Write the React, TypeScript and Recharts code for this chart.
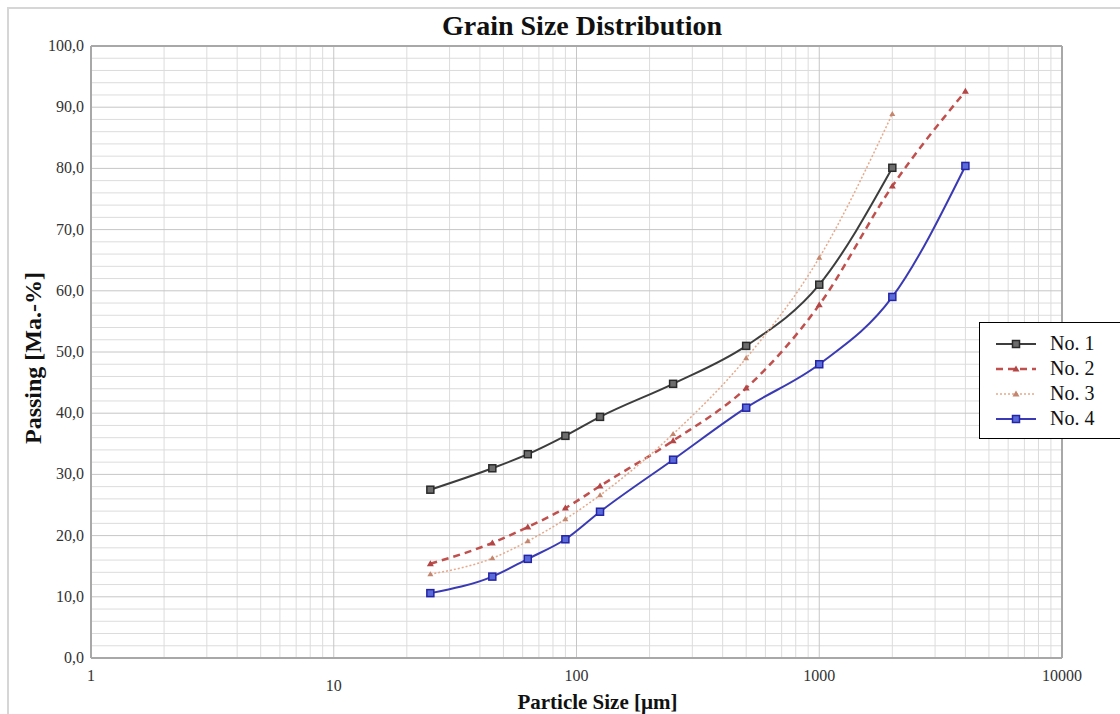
import React from "react";
import {
  LineChart,
  Line,
  XAxis,
  YAxis,
  ReferenceLine,
  Legend,
  Label,
} from "recharts";

// sieve sizes in µm
const sizes = [25, 45, 63, 90, 125, 250, 500, 1000, 2000, 4000];
const no1 = [27.5, 31.0, 33.3, 36.3, 39.4, 44.8, 51.0, 61.0, 80.1, null];
const no2 = [15.4, 18.8, 21.4, 24.5, 28.1, 35.5, 44.1, 57.7, 77.1, 92.6];
const no3 = [13.7, 16.3, 19.1, 22.7, 26.6, 36.6, 49.0, 65.4, 88.9, null];
const no4 = [10.6, 13.3, 16.2, 19.4, 23.9, 32.4, 40.9, 48.0, 59.0, 80.4];

const xTicks = [1, 10, 100, 1000, 10000];
const yTicks = [0, 10, 20, 30, 40, 50, 60, 70, 80, 90, 100];

const SERIES = [
  { key: "n1", name: "No. 1", color: "#3d3d3d", width: 2, dash: undefined },
  { key: "n2", name: "No. 2", color: "#c0504d", width: 2.5, dash: "7 5" },
  { key: "n3", name: "No. 3", color: "#e6a98a", width: 1.5, dash: "2 2" },
  { key: "n4", name: "No. 4", color: "#3a3ab4", width: 2, dash: undefined },
];

const data = sizes.map((s, i) => ({
  size: s,
  n1: no1[i],
  n2: no2[i],
  n3: no3[i],
  n4: no4[i],
}));

// minor grid values
const xMinor: number[] = [];
[1, 10, 100, 1000].forEach((d) => {
  for (let k = 2; k <= 9; k++) xMinor.push(d * k);
});
const yMinor: number[] = [];
for (let v = 2; v < 100; v += 2) if (v % 10 !== 0) yMinor.push(v);

const SERIF = "Liberation Serif, Times New Roman, serif";

const fmtY = (v: number) => v.toFixed(1).replace(".", ",");

const SquareDot = (fill: string, stroke: string) => (props: any) => {
  const { cx, cy, index } = props;
  if (cx == null || cy == null || props.value == null) return <g key={index} />;
  return (
    <rect
      key={index}
      x={cx - 3.5}
      y={cy - 3.5}
      width={7}
      height={7}
      fill={fill}
      stroke={stroke}
      strokeWidth={1.5}
    />
  );
};

const TriDot = (fill: string, size: number) => (props: any) => {
  const { cx, cy, index } = props;
  if (cx == null || cy == null || props.value == null) return <g key={index} />;
  return (
    <polygon
      key={index}
      points={`${cx},${cy - size} ${cx + size},${cy + size * 0.7} ${cx - size},${cy + size * 0.7}`}
      fill={fill}
    />
  );
};

const dots: Record<string, any> = {
  n1: SquareDot("#6d6d6d", "#2a2a2a"),
  n2: TriDot("#b44545", 3.5),
  n3: TriDot("#c4866e", 3),
  n4: SquareDot("#5a6ad8", "#2424a8"),
};

const XTick = (props: any) => {
  const { x, y, payload } = props;
  const extra = payload.value === 10 ? 10 : 0;
  return (
    <text
      x={x}
      y={y + 15 + extra}
      textAnchor="middle"
      style={{ fontFamily: SERIF, fontSize: 16, fill: "#333" }}
    >
      {payload.value}
    </text>
  );
};

const YTick = (props: any) => {
  const { x, y, payload } = props;
  return (
    <text
      x={x + 1}
      y={y + 5}
      textAnchor="end"
      style={{ fontFamily: SERIF, fontSize: 16, fill: "#333" }}
    >
      {fmtY(payload.value)}
    </text>
  );
};

const LegendBox = () => (
  <div
    style={{
      border: "1px solid #000",
      background: "#fff",
      width: 160,
      height: 117,
      paddingTop: 8,
      boxSizing: "border-box",
      fontFamily: SERIF,
      fontSize: 20,
      color: "#111",
    }}
  >
    {SERIES.map((s) => (
      <div
        key={s.key}
        style={{ display: "flex", alignItems: "center", height: 25 }}
      >
        <svg width={70} height={20} style={{ marginLeft: 14 }}>
          <line
            x1={2}
            y1={10}
            x2={42}
            y2={10}
            stroke={s.color}
            strokeWidth={s.width}
            strokeDasharray={s.dash}
          />
          {s.key === "n1" || s.key === "n4" ? (
            <rect
              x={18.5}
              y={6.5}
              width={7}
              height={7}
              fill={s.key === "n1" ? "#6d6d6d" : "#5a6ad8"}
              stroke={s.key === "n1" ? "#2a2a2a" : "#2424a8"}
              strokeWidth={1.5}
            />
          ) : (
            <polygon
              points="22,6.5 25.5,12.5 18.5,12.5"
              fill={s.key === "n2" ? "#b44545" : "#c4866e"}
            />
          )}
        </svg>
        <span style={{ marginLeft: -14 }}>{s.name}</span>
      </div>
    ))}
  </div>
);

export default function App() {
  return (
    <div
      style={{
        position: "absolute",
        left: 0,
        top: 0,
        width: 1120,
        height: 714,
        overflow: "hidden",
        background: "#fff",
      }}
    >
      <div
        style={{
          position: "absolute",
          left: 7,
          top: 7,
          width: 1140,
          height: 740,
          border: "2px solid #d6d6d6",
        }}
      />
      <div
        style={{
          position: "absolute",
          left: 0,
          top: 10,
          width: 1164,
          textAlign: "center",
          fontFamily: SERIF,
          fontWeight: "bold",
          fontSize: 28,
          color: "#111",
        }}
      >
        Grain Size Distribution
      </div>
      <div style={{ position: "absolute", left: 0, top: 0 }}>
        <LineChart
          width={1120}
          height={714}
          data={data}
          margin={{ top: 46, right: 58, bottom: 0, left: 0 }}
        >
          <XAxis
            dataKey="size"
            type="number"
            scale="log"
            domain={[1, 10000]}
            ticks={xTicks}
            allowDataOverflow
            height={56}
            tickLine={false}
            axisLine={{ stroke: "#a8a8a8", strokeWidth: 2 }}
            tick={<XTick />}
          >
            <Label
              value="Particle Size [µm]"
              position="insideBottom"
              offset={5}
              dx={21}
              style={{
                fontFamily: SERIF,
                fontWeight: "bold",
                fontSize: 21,
                fill: "#111",
              }}
            />
          </XAxis>
          <YAxis
            type="number"
            domain={[0, 100]}
            ticks={yTicks}
            width={91}
            tickLine={false}
            axisLine={{ stroke: "#a8a8a8", strokeWidth: 2 }}
            tick={<YTick />}
          >
            <Label
              value="Passing [Ma.-%]"
              angle={-90}
              position="insideLeft"
              offset={32}
              dy={6}
              style={{
                fontFamily: SERIF,
                fontWeight: "bold",
                fontSize: 24,
                fill: "#111",
                textAnchor: "middle",
              }}
            />
          </YAxis>
          {yMinor.map((v) => (
            <ReferenceLine key={`ym${v}`} y={v} stroke="#dcdcdc" />
          ))}
          {xMinor.map((v) => (
            <ReferenceLine key={`xm${v}`} x={v} stroke="#dcdcdc" />
          ))}
          {yTicks.slice(1, -1).map((v) => (
            <ReferenceLine key={`yM${v}`} y={v} stroke="#c6c6c6" />
          ))}
          {xTicks.slice(1, -1).map((v) => (
            <ReferenceLine key={`xM${v}`} x={v} stroke="#c6c6c6" />
          ))}
          <ReferenceLine y={100} stroke="#a8a8a8" strokeWidth={2} />
          <ReferenceLine x={10000} stroke="#a8a8a8" strokeWidth={2} />
          {SERIES.map((s) => (
            <Line
              key={s.key}
              dataKey={s.key}
              name={s.name}
              type="monotone"
              stroke={s.color}
              strokeWidth={s.width}
              strokeDasharray={s.dash}
              dot={dots[s.key]}
              activeDot={false}
              isAnimationActive={false}
            />
          ))}
          <Legend
            layout="horizontal"
            verticalAlign="middle"
            align="center"
            content={<LegendBox />}
            wrapperStyle={{ left: 979, top: 322, width: 160 }}
          />
        </LineChart>
      </div>
    </div>
  );
}
